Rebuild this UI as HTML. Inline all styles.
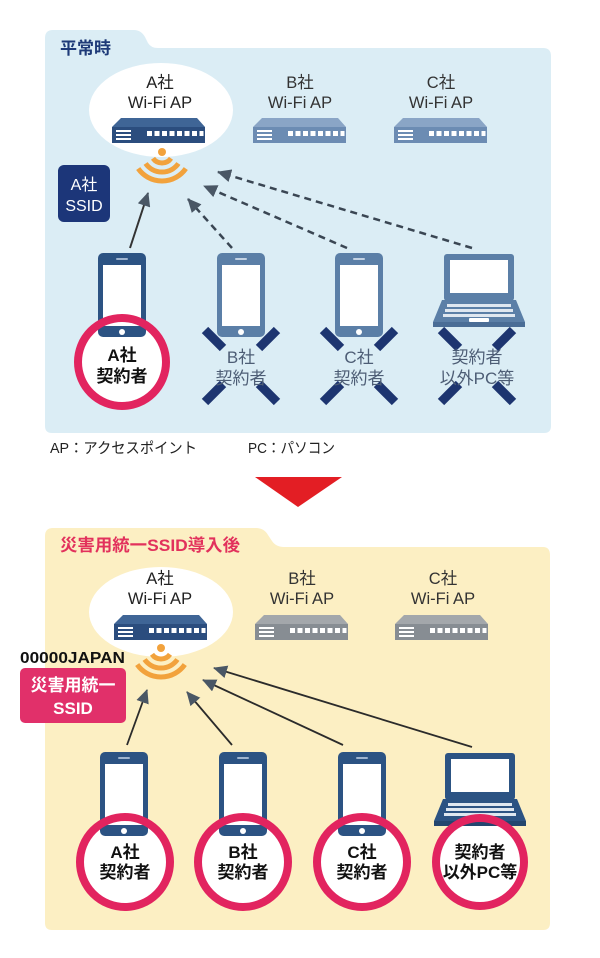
<!DOCTYPE html>
<html><head><meta charset="utf-8"><style>
html,body{margin:0;padding:0;background:#fff;}
svg{display:block;}
text{font-family:"Liberation Sans","Noto Sans CJK JP",sans-serif;}
</style></head><body>
<svg width="600" height="958" viewBox="0 0 600 958" xmlns="http://www.w3.org/2000/svg">
<defs>
<marker id="ah" markerUnits="userSpaceOnUse" markerWidth="15" markerHeight="13" refX="13" refY="6.5" orient="auto">
<path d="M0,0 L14,6.5 L0,13 z" fill="#4a5765"/>
</marker>
</defs>
<rect width="600" height="958" fill="#fff"/>

<!-- ===== TOP PANEL ===== -->
<path d="M45,38 Q45,30 53,30 L134,30 Q141,30 145,37 L148,43 Q151,48 158,48 L543,48 Q551,48 551,56 L551,426 Q551,433 544,433 L52,433 Q45,433 45,426 Z" fill="#dbedf5"/>
<text x="60" y="54" font-size="17" font-weight="bold" fill="#1e3a78">平常時</text>

<ellipse cx="161" cy="110" rx="72" ry="47" fill="#fff"/>
<text x="160" y="88" font-size="16.5" fill="#222" text-anchor="middle">A社</text>
<text x="160" y="108" font-size="16.5" fill="#222" text-anchor="middle">Wi-Fi AP</text>
<text x="300" y="88" font-size="16.5" fill="#333" text-anchor="middle">B社</text>
<text x="300" y="108" font-size="16.5" fill="#333" text-anchor="middle">Wi-Fi AP</text>
<text x="441" y="88" font-size="16.5" fill="#333" text-anchor="middle">C社</text>
<text x="441" y="108" font-size="16.5" fill="#333" text-anchor="middle">Wi-Fi AP</text>

<!-- AP devices top -->
<g transform="translate(112,118)">
<polygon points="9,0 85,0 93,9 0,9" fill="#3f6596"/><rect x="0" y="9" width="93" height="16" fill="#2b4d7e"/>
<rect x="4" y="12" width="15" height="2" fill="#fff"/><rect x="4" y="16" width="15" height="2" fill="#fff"/><rect x="4" y="20" width="15" height="2" fill="#fff"/>
<g fill="#fff"><rect x="35" y="13" width="5" height="5"/><rect x="42.5" y="13" width="5" height="5"/><rect x="50" y="13" width="5" height="5"/><rect x="57.5" y="13" width="5" height="5"/><rect x="65" y="13" width="5" height="5"/><rect x="72.5" y="13" width="5" height="5"/><rect x="80" y="13" width="5" height="5"/><rect x="87.5" y="13" width="4" height="5"/></g>
</g>
<g transform="translate(253,118)">
<polygon points="9,0 85,0 93,9 0,9" fill="#8aa5c6"/><rect x="0" y="9" width="93" height="16" fill="#6c8cb3"/>
<rect x="4" y="12" width="15" height="2" fill="#fff"/><rect x="4" y="16" width="15" height="2" fill="#fff"/><rect x="4" y="20" width="15" height="2" fill="#fff"/>
<g fill="#fff"><rect x="35" y="13" width="5" height="5"/><rect x="42.5" y="13" width="5" height="5"/><rect x="50" y="13" width="5" height="5"/><rect x="57.5" y="13" width="5" height="5"/><rect x="65" y="13" width="5" height="5"/><rect x="72.5" y="13" width="5" height="5"/><rect x="80" y="13" width="5" height="5"/><rect x="87.5" y="13" width="4" height="5"/></g>
</g>
<g transform="translate(394,118)">
<polygon points="9,0 85,0 93,9 0,9" fill="#8aa5c6"/><rect x="0" y="9" width="93" height="16" fill="#6c8cb3"/>
<rect x="4" y="12" width="15" height="2" fill="#fff"/><rect x="4" y="16" width="15" height="2" fill="#fff"/><rect x="4" y="20" width="15" height="2" fill="#fff"/>
<g fill="#fff"><rect x="35" y="13" width="5" height="5"/><rect x="42.5" y="13" width="5" height="5"/><rect x="50" y="13" width="5" height="5"/><rect x="57.5" y="13" width="5" height="5"/><rect x="65" y="13" width="5" height="5"/><rect x="72.5" y="13" width="5" height="5"/><rect x="80" y="13" width="5" height="5"/><rect x="87.5" y="13" width="4" height="5"/></g>
</g>

<!-- wifi top -->
<g fill="none" stroke="#f2a23c" stroke-width="5">
<path d="M153,158.3 A11,11 0 0 0 171,158.3"/>
<path d="M145.6,163.5 A20,20 0 0 0 178.4,163.5"/>
<path d="M138.2,168.6 A29,29 0 0 0 185.8,168.6"/>
</g>
<circle cx="162" cy="152" r="4" fill="#f2a23c"/>

<!-- SSID box top -->
<rect x="58" y="165" width="52" height="57" rx="6" fill="#1c3679"/>
<text x="84" y="190" font-size="16" fill="#fff" text-anchor="middle">A社</text>
<text x="84" y="211" font-size="16" fill="#fff" text-anchor="middle">SSID</text>

<!-- arrows top -->
<line x1="130" y1="248" x2="148" y2="193" stroke="#333" stroke-width="2" marker-end="url(#ah)"/>
<g stroke="#3a4653" stroke-width="2.5" stroke-dasharray="7,5" fill="none">
<line x1="232" y1="248" x2="188" y2="199" marker-end="url(#ah)"/>
<line x1="347" y1="248" x2="204" y2="186" marker-end="url(#ah)"/>
<line x1="472" y1="248" x2="218" y2="172" marker-end="url(#ah)"/>
</g>

<!-- top devices -->
<circle cx="122" cy="362" r="44" fill="#fff"/>
<g transform="translate(98,253)">
<rect width="48" height="84" rx="5" fill="#2c5383"/><rect x="5" y="12" width="38" height="61" fill="#fff"/>
<rect x="18" y="5" width="12" height="2" rx="1" fill="#9fb4cf"/><circle cx="24" cy="79" r="3" fill="#fff"/>
</g>
<circle cx="122" cy="362" r="44" fill="none" stroke="#e2245f" stroke-width="8"/>
<text x="122" y="361" font-size="17" font-weight="bold" fill="#111" text-anchor="middle">A社</text>
<text x="122" y="382" font-size="17" font-weight="bold" fill="#111" text-anchor="middle">契約者</text>

<g transform="translate(217,253)">
<rect width="48" height="84" rx="5" fill="#5b7fa7"/><rect x="5" y="12" width="38" height="61" fill="#fff"/>
<rect x="18" y="5" width="12" height="2" rx="1" fill="#c3d2e3"/><circle cx="24" cy="79" r="3" fill="#fff"/>
</g>
<g transform="translate(335,253)">
<rect width="48" height="84" rx="5" fill="#5b7fa7"/><rect x="5" y="12" width="38" height="61" fill="#fff"/>
<rect x="18" y="5" width="12" height="2" rx="1" fill="#c3d2e3"/><circle cx="24" cy="79" r="3" fill="#fff"/>
</g>
<g transform="translate(433,253)">
<rect x="11" y="1" width="70" height="47" rx="3" fill="#5b7fa7"/><rect x="17" y="7" width="58" height="33" fill="#fff"/>
<polygon points="9,47 83,47 92,69 0,69" fill="#5b7fa7"/><rect x="0" y="69" width="92" height="5" fill="#4a6d96"/>
<g fill="#dfe7f0"><rect x="14" y="51" width="64" height="3"/><rect x="12" y="56" width="68" height="3"/><rect x="10" y="61" width="72" height="3"/></g>
<rect x="36" y="65" width="20" height="4" rx="1" fill="#fff"/>
</g>

<!-- X marks -->
<g stroke="#1d3570" stroke-width="9">
<line x1="205" y1="330" x2="223" y2="348"/><line x1="277" y1="330" x2="259" y2="348"/><line x1="205" y1="402" x2="223" y2="384"/><line x1="277" y1="402" x2="259" y2="384"/>
<line x1="323" y1="330" x2="341" y2="348"/><line x1="395" y1="330" x2="377" y2="348"/><line x1="323" y1="402" x2="341" y2="384"/><line x1="395" y1="402" x2="377" y2="384"/>
<line x1="441" y1="330" x2="459" y2="348"/><line x1="513" y1="330" x2="495" y2="348"/><line x1="441" y1="402" x2="459" y2="384"/><line x1="513" y1="402" x2="495" y2="384"/>
</g>
<g font-size="17" fill="#4d5d75" text-anchor="middle">
<text x="241" y="363">B社</text><text x="241" y="384">契約者</text>
<text x="359" y="363">C社</text><text x="359" y="384">契約者</text>
<text x="477" y="363">契約者</text><text x="477" y="384">以外PC等</text>
</g>

<!-- footnote -->
<text x="50" y="453" font-size="15" fill="#222" textLength="147" lengthAdjust="spacingAndGlyphs">AP：アクセスポイント</text>
<text x="248" y="453" font-size="15" fill="#222" textLength="87" lengthAdjust="spacingAndGlyphs">PC：パソコン</text>

<!-- red triangle -->
<polygon points="255,477 342,477 298,507" fill="#e31e24"/>

<!-- ===== BOTTOM PANEL ===== -->
<path d="M45,536 Q45,528 53,528 L256,528 Q264,528 268,535 L272,541 Q276,547 284,547 L543,547 Q550,547 550,555 L550,923 Q550,930 543,930 L52,930 Q45,930 45,923 Z" fill="#fcefc3"/>
<text x="60" y="551" font-size="17" font-weight="bold" fill="#e2315c" textLength="180" lengthAdjust="spacingAndGlyphs">災害用統一SSID導入後</text>

<ellipse cx="161" cy="612" rx="72" ry="45" fill="#fff"/>
<text x="160" y="584" font-size="16.5" fill="#222" text-anchor="middle">A社</text>
<text x="160" y="604" font-size="16.5" fill="#222" text-anchor="middle">Wi-Fi AP</text>
<text x="302" y="584" font-size="16.5" fill="#333" text-anchor="middle">B社</text>
<text x="302" y="604" font-size="16.5" fill="#333" text-anchor="middle">Wi-Fi AP</text>
<text x="443" y="584" font-size="16.5" fill="#333" text-anchor="middle">C社</text>
<text x="443" y="604" font-size="16.5" fill="#333" text-anchor="middle">Wi-Fi AP</text>

<g transform="translate(114,615)">
<polygon points="9,0 85,0 93,9 0,9" fill="#3f6596"/><rect x="0" y="9" width="93" height="16" fill="#2b4d7e"/>
<rect x="4" y="12" width="15" height="2" fill="#fff"/><rect x="4" y="16" width="15" height="2" fill="#fff"/><rect x="4" y="20" width="15" height="2" fill="#fff"/>
<g fill="#fff"><rect x="35" y="13" width="5" height="5"/><rect x="42.5" y="13" width="5" height="5"/><rect x="50" y="13" width="5" height="5"/><rect x="57.5" y="13" width="5" height="5"/><rect x="65" y="13" width="5" height="5"/><rect x="72.5" y="13" width="5" height="5"/><rect x="80" y="13" width="5" height="5"/><rect x="87.5" y="13" width="4" height="5"/></g>
</g>
<g transform="translate(255,615)">
<polygon points="9,0 85,0 93,9 0,9" fill="#a3a7ab"/><rect x="0" y="9" width="93" height="16" fill="#878d93"/>
<rect x="4" y="12" width="15" height="2" fill="#fff"/><rect x="4" y="16" width="15" height="2" fill="#fff"/><rect x="4" y="20" width="15" height="2" fill="#fff"/>
<g fill="#fff"><rect x="35" y="13" width="5" height="5"/><rect x="42.5" y="13" width="5" height="5"/><rect x="50" y="13" width="5" height="5"/><rect x="57.5" y="13" width="5" height="5"/><rect x="65" y="13" width="5" height="5"/><rect x="72.5" y="13" width="5" height="5"/><rect x="80" y="13" width="5" height="5"/><rect x="87.5" y="13" width="4" height="5"/></g>
</g>
<g transform="translate(395,615)">
<polygon points="9,0 85,0 93,9 0,9" fill="#a3a7ab"/><rect x="0" y="9" width="93" height="16" fill="#878d93"/>
<rect x="4" y="12" width="15" height="2" fill="#fff"/><rect x="4" y="16" width="15" height="2" fill="#fff"/><rect x="4" y="20" width="15" height="2" fill="#fff"/>
<g fill="#fff"><rect x="35" y="13" width="5" height="5"/><rect x="42.5" y="13" width="5" height="5"/><rect x="50" y="13" width="5" height="5"/><rect x="57.5" y="13" width="5" height="5"/><rect x="65" y="13" width="5" height="5"/><rect x="72.5" y="13" width="5" height="5"/><rect x="80" y="13" width="5" height="5"/><rect x="87.5" y="13" width="4" height="5"/></g>
</g>

<!-- wifi bottom -->
<g fill="none" stroke="#f2a23c" stroke-width="5">
<path d="M152,654.3 A11,11 0 0 0 170,654.3"/>
<path d="M144.6,659.5 A20,20 0 0 0 177.4,659.5"/>
<path d="M137.2,664.6 A29,29 0 0 0 184.8,664.6"/>
</g>
<circle cx="161" cy="648" r="4" fill="#f2a23c"/>

<text x="20" y="663" font-size="16" font-weight="bold" fill="#111" textLength="105" lengthAdjust="spacingAndGlyphs">00000JAPAN</text>
<rect x="20" y="668" width="106" height="55" rx="5" fill="#e1306a"/>
<text x="73" y="691" font-size="17" font-weight="bold" fill="#fff" text-anchor="middle">災害用統一</text>
<text x="73" y="714" font-size="17" font-weight="bold" fill="#fff" text-anchor="middle">SSID</text>

<!-- arrows bottom -->
<g stroke="#2b2b2b" stroke-width="1.8" fill="none">
<line x1="127" y1="745" x2="147" y2="690" marker-end="url(#ah)"/>
<line x1="232" y1="745" x2="187" y2="692" marker-end="url(#ah)"/>
<line x1="343" y1="745" x2="203" y2="680" marker-end="url(#ah)"/>
<line x1="472" y1="747" x2="214" y2="668" marker-end="url(#ah)"/>
</g>

<!-- bottom devices -->
<circle cx="125" cy="862" r="45" fill="#fff"/>
<circle cx="243" cy="862" r="45" fill="#fff"/>
<circle cx="362" cy="862" r="45" fill="#fff"/>
<circle cx="480" cy="862" r="44" fill="#fff"/>
<g transform="translate(100,752)">
<rect width="48" height="84" rx="5" fill="#2c5383"/><rect x="5" y="12" width="38" height="61" fill="#fff"/>
<rect x="18" y="5" width="12" height="2" rx="1" fill="#9fb4cf"/><circle cx="24" cy="79" r="3" fill="#fff"/>
</g>
<g transform="translate(219,752)">
<rect width="48" height="84" rx="5" fill="#2c5383"/><rect x="5" y="12" width="38" height="61" fill="#fff"/>
<rect x="18" y="5" width="12" height="2" rx="1" fill="#9fb4cf"/><circle cx="24" cy="79" r="3" fill="#fff"/>
</g>
<g transform="translate(338,752)">
<rect width="48" height="84" rx="5" fill="#2c5383"/><rect x="5" y="12" width="38" height="61" fill="#fff"/>
<rect x="18" y="5" width="12" height="2" rx="1" fill="#9fb4cf"/><circle cx="24" cy="79" r="3" fill="#fff"/>
</g>
<g transform="translate(434,752)">
<rect x="11" y="1" width="70" height="47" rx="3" fill="#2c5383"/><rect x="17" y="7" width="58" height="33" fill="#fff"/>
<polygon points="9,47 83,47 92,69 0,69" fill="#2c5383"/><rect x="0" y="69" width="92" height="5" fill="#23466f"/>
<g fill="#dfe7f0"><rect x="14" y="51" width="64" height="3"/><rect x="12" y="56" width="68" height="3"/><rect x="10" y="61" width="72" height="3"/></g>
<rect x="36" y="65" width="20" height="4" rx="1" fill="#fff"/>
</g>
<g fill="none" stroke="#e2245f" stroke-width="8">
<circle cx="125" cy="862" r="45"/>
<circle cx="243" cy="862" r="45"/>
<circle cx="362" cy="862" r="45"/>
<circle cx="480" cy="862" r="44"/>
</g>
<g font-size="17" font-weight="bold" fill="#111" text-anchor="middle">
<text x="125" y="858">A社</text><text x="125" y="878">契約者</text>
<text x="243" y="858">B社</text><text x="243" y="878">契約者</text>
<text x="362" y="858">C社</text><text x="362" y="878">契約者</text>
<text x="480" y="858">契約者</text><text x="480" y="878">以外PC等</text>
</g>
</svg>
</body></html>
